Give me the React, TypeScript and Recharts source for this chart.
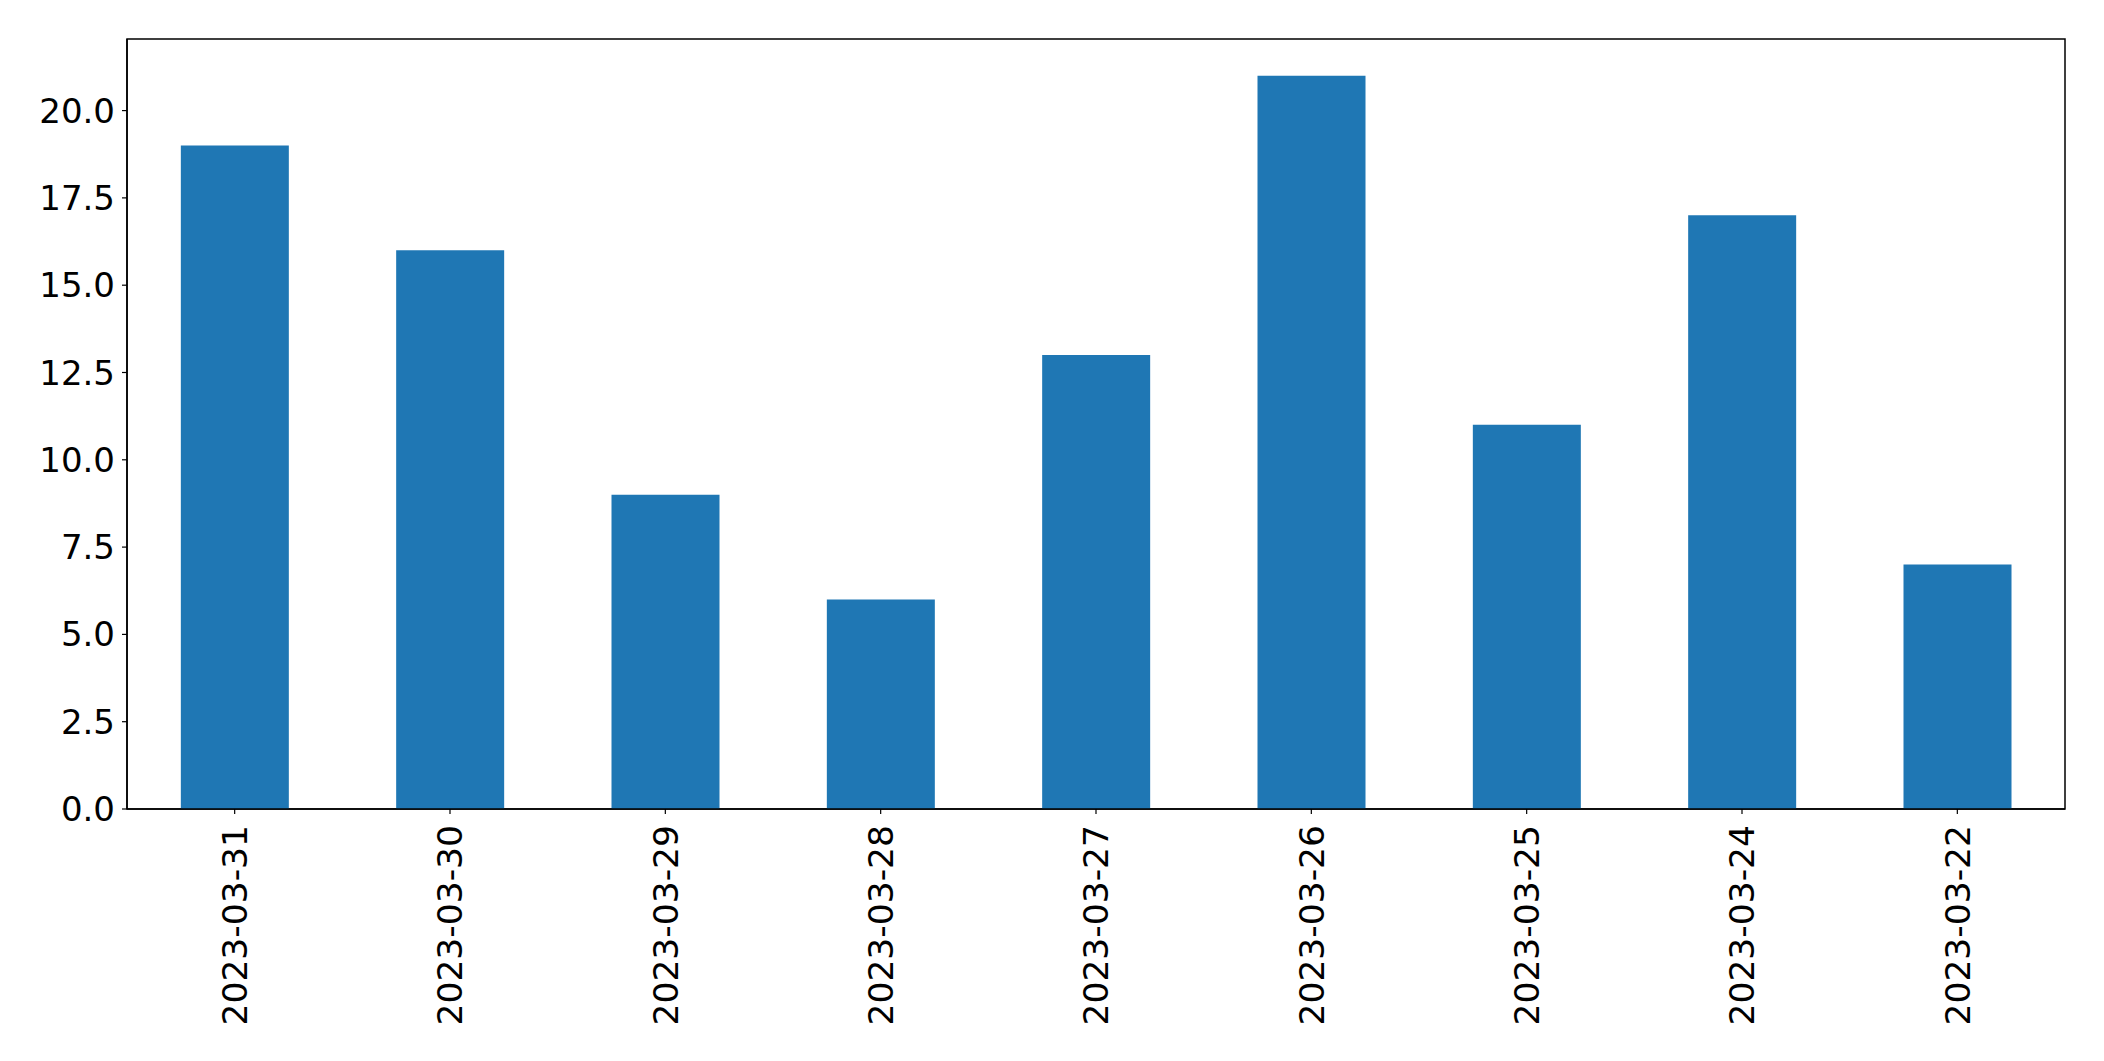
import { BarChart, Bar, XAxis, YAxis, ReferenceArea } from "recharts";

const dates = [
  "2023-03-31",
  "2023-03-30",
  "2023-03-29",
  "2023-03-28",
  "2023-03-27",
  "2023-03-26",
  "2023-03-25",
  "2023-03-24",
  "2023-03-22",
];
const counts = [19, 16, 9, 6, 13, 21, 11, 17, 7];
const yTicks = [0, 2.5, 5, 7.5, 10, 12.5, 15, 17.5, 20];
const yMax = 22.05;

const data = dates.map((date, i) => ({ date, count: counts[i] }));

const font = "DejaVu Sans, sans-serif";

const DateTick = (props: any) => {
  const { x, y, payload } = props;
  const ty = y + 9;
  return (
    <text
      x={x}
      y={ty}
      transform={`rotate(-90, ${x}, ${ty})`}
      textAnchor="end"
      dy="0.36em"
      fontSize={34.5}
      fontFamily={font}
      fill="#000"
    >
      {payload.value}
    </text>
  );
};

const App = () => {
  return (
    <div style={{ position: "absolute", left: 0, top: 0, background: "#fff" }}>
      <BarChart
        width={2104}
        height={1061}
        data={data}
        margin={{ top: 39, right: 39, left: 0, bottom: 0 }}
        barCategoryGap="25%"
      >
        <XAxis
          dataKey="date"
          height={252}
          interval={0}
          tickSize={5}
          axisLine={{ stroke: "#000", strokeWidth: 1.5 }}
          tickLine={{ stroke: "#000", strokeWidth: 1.2 }}
          tick={<DateTick />}
        />
        <YAxis
          width={127}
          domain={[0, yMax]}
          ticks={yTicks}
          tickSize={5}
          tickMargin={7}
          allowDataOverflow
          tickFormatter={(v: number) => v.toFixed(1)}
          axisLine={{ stroke: "#000", strokeWidth: 1.5 }}
          tickLine={{ stroke: "#000", strokeWidth: 1.2 }}
          tick={{ fontSize: 34, fontFamily: font, fill: "#000" }}
        />
        <Bar dataKey="count" fill="#1f77b4" isAnimationActive={false} />
        <ReferenceArea
          x1={dates[0]}
          x2={dates[dates.length - 1]}
          y1={0}
          y2={yMax}
          ifOverflow="visible"
          fill="none"
          fillOpacity={0}
          stroke="#000"
          strokeWidth={1.5}
        />
      </BarChart>
    </div>
  );
};

export default App;
